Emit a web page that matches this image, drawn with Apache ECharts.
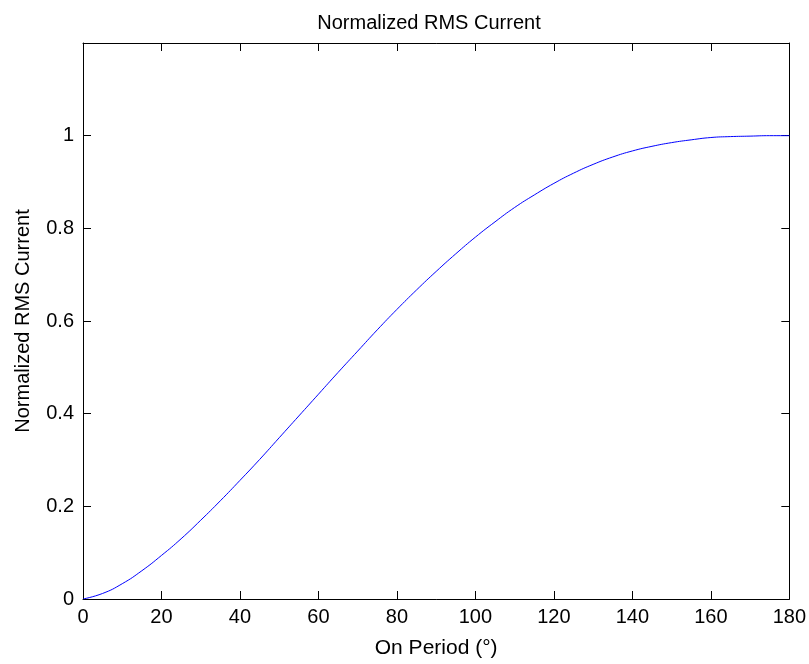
<!DOCTYPE html>
<html>
<head>
<meta charset="utf-8">
<script src="https://cdn.jsdelivr.net/npm/echarts@6/dist/echarts.min.js"></script>
<style>
html,body{margin:0;padding:0;background:#fff;}
#chart{width:809px;height:664px;}
</style>
</head>
<body>
<div id="chart"></div>
<script>
// On period (degrees)
var onPeriod = [0,5,10,15,20,25,30,35,40,45,50,55,60,65,70,75,80,85,90,95,100,105,110,115,120,125,130,135,140,145,150,155,160,165,170,175,180];
// Normalized RMS current
var rmsCurrent = [0,0.012,0.033,0.061,0.094,0.130,0.170,0.212,0.256,0.301,0.348,0.395,0.442,0.489,0.535,0.581,0.625,0.667,0.707,0.745,0.781,0.814,0.845,0.872,0.897,0.919,0.938,0.954,0.967,0.977,0.985,0.991,0.996,0.998,0.999,1.0,1.0];
var xTicks = [0,20,40,60,80,100,120,140,160,180];
var yTicks = [0,0.2,0.4,0.6,0.8,1];

var data = onPeriod.map(function(x,i){return [x, rmsCurrent[i]];});
var FONT = 'Liberation Sans, Arial, sans-serif';
var lineStyle = {color:'#000', width:1};

var chart = echarts.init(document.getElementById('chart'), null, {renderer:'canvas'});
chart.setOption({
  backgroundColor:'#fff',
  animation:false,
  title:{
    text:'Normalized RMS Current',
    left:424, top:8, textAlign:'center',
    textStyle:{fontFamily:FONT, fontSize:20, fontWeight:'normal', color:'#000'}
  },
  grid:{left:83, right:19, top:43, bottom:64},
  xAxis:[{
    type:'value', min:0, max:180, interval:20, position:'bottom',
    name:'On Period (°)', nameLocation:'middle', nameGap:39,
    nameTextStyle:{fontFamily:FONT, fontSize:21, color:'#000'},
    axisLine:{show:true, onZero:false, lineStyle:lineStyle},
    axisTick:{show:true, inside:true, length:8, lineStyle:lineStyle},
    axisLabel:{fontFamily:FONT, fontSize:20, color:'#000', margin:8,
      formatter:function(v){return xTicks.indexOf(v)>=0 ? String(v) : '';}},
    splitLine:{show:false}
  },{
    type:'value', min:0, max:180, interval:20, position:'top',
    axisLine:{show:true, onZero:false, lineStyle:lineStyle},
    axisTick:{show:true, inside:true, length:8, lineStyle:lineStyle},
    axisLabel:{show:false}, splitLine:{show:false}
  }],
  yAxis:[{
    type:'value', min:0, max:1.2, interval:0.2, position:'left',
    name:'Normalized RMS Current', nameLocation:'middle', nameGap:50, nameRotate:90,
    nameTextStyle:{fontFamily:FONT, fontSize:20, color:'#000'},
    axisLine:{show:true, onZero:false, lineStyle:lineStyle},
    axisTick:{show:true, inside:true, length:8, lineStyle:lineStyle},
    axisLabel:{fontFamily:FONT, fontSize:20, color:'#000', margin:9,
      formatter:function(v){
        var r = Math.round(v*10)/10;
        return yTicks.indexOf(r)>=0 ? String(r) : '';
      }},
    splitLine:{show:false}
  },{
    type:'value', min:0, max:1.2, interval:0.2, position:'right',
    axisLine:{show:true, onZero:false, lineStyle:lineStyle},
    axisTick:{show:true, inside:true, length:8, lineStyle:lineStyle},
    axisLabel:{show:false}, splitLine:{show:false}
  }],
  series:[{
    type:'line', data:data, xAxisIndex:0, yAxisIndex:0,
    smooth:true, showSymbol:false, symbol:'none',
    lineStyle:{color:'#0000ff', width:1}
  }]
});
</script>
</body>
</html>
